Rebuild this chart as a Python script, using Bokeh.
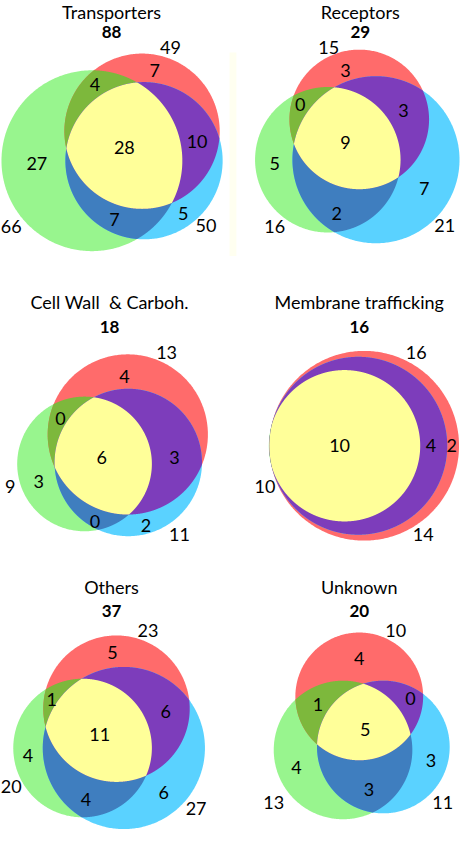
import numpy as np
from bokeh.plotting import figure
from bokeh.models import Range1d, ColumnDataSource
from bokeh.core.properties import value
from bokeh.embed import file_html
from bokeh.resources import INLINE

# ---------------- data ----------------
titles = ["Transporters", "Receptors", "Cell Wall\u00a0 & Carboh.",
          "Membrane trafficking", "Others", "Unknown"]
totals = [88, 29, 18, 16, 37, 20]
green_totals = [66, 16, 9, 10, 20, 13]
red_totals = [49, 15, 13, 16, 23, 10]
blue_totals = [50, 21, 11, 14, 27, 11]
green_only = [27, 5, 3, None, 4, 4]
red_only = [7, 3, 4, 2, 5, 4]
blue_only = [5, 7, 2, None, 6, 3]
green_red = [4, 0, 0, None, 1, 1]
green_blue = [7, 2, 0, None, 4, 3]
red_blue = [10, 3, 3, 4, 6, 0]
all_three = [28, 9, 6, 10, 11, 5]

# ---------------- layout (reference pixel space) ----------------
circles = [
    {"G": (93, 163, 92), "R": (144, 133, 79), "B": (146, 163, 80)},
    {"G": (333, 162, 74), "R": (365, 121, 71), "B": (382, 162, 85)},
    {"G": (85.5, 471.5, 68.5), "R": (129.5, 441.5, 81.5), "B": (130, 470, 75)},
    {"G": (350, 453, 77), "R": (370, 453, 96.5), "B": (364, 453, 90.5)},
    {"G": (83.5, 760.5, 70.5), "R": (118, 720.5, 74.5), "B": (125.5, 760.5, 82.5)},
    {"G": (348.5, 762.5, 70.5), "R": (365, 708, 65), "B": (389.5, 759.5, 67.5)},
]
label_pos = [
    {"title": (113, 12), "total": (113, 32), "Gt": (11, 230), "Rt": (173, 48), "Bt": (209, 229),
     "G": (37, 166), "R": (157, 71), "B": (186, 217), "GR": (96, 85), "GB": (116, 223),
     "RB": (200, 143), "GRB": (126, 150)},
    {"title": (366, 12), "total": (366, 32), "Gt": (279, 230), "Rt": (334, 48), "Bt": (452, 229),
     "G": (279, 166), "R": (351, 71), "B": (431, 191), "GR": (305, 106), "GB": (342, 217),
     "RB": (410, 112), "GRB": (351, 144)},
    {"title": (111, 307), "total": (111, 332), "Gt": (10, 494), "Rt": (169, 358), "Bt": (182, 543),
     "G": (39, 489), "R": (126, 383), "B": (148, 534), "GR": (61, 425), "GB": (96, 530),
     "RB": (177, 465), "GRB": (103, 465)},
    {"title": (365, 307), "total": (365, 332), "Gt": (269, 494), "Rt": (423, 358), "Bt": (430, 543),
     "G": None, "R": (459, 453), "B": None, "GR": None, "GB": None,
     "RB": (438, 453), "GRB": (345, 453)},
    {"title": (113, 597), "total": (113, 621), "Gt": (11, 800), "Rt": (150, 641), "Bt": (199, 822),
     "G": (28, 768), "R": (114, 663), "B": (166, 806), "GR": (52, 711), "GB": (87, 813),
     "RB": (168, 723), "GRB": (101, 747)},
    {"title": (365, 597), "total": (365, 621), "Gt": (278, 816), "Rt": (402, 641), "Bt": (450, 816),
     "G": (301, 780), "R": (365, 669), "B": (438, 773), "GR": (323, 716), "GB": (375, 803),
     "RB": (417, 710), "GRB": (371, 742)},
]
colors = {"G": "#98F58E", "R": "#FF6B6B", "B": "#5AD2FF",
          "GR": "#7DB83C", "GB": "#3F7EBF", "RB": "#7D3DBB", "GRB": "#FFFF99"}

FONT = "Lato"


def circle_poly(c, n=400):
    cx, cy, r = c
    t = np.linspace(0, 2 * np.pi, n, endpoint=False)
    return cx + r * np.cos(t), cy + r * np.sin(t)


def intersection_poly(cs, n=3000):
    px, py = [], []
    for i, c in enumerate(cs):
        x, y = circle_poly(c, n)
        keep = np.ones_like(x, dtype=bool)
        for j, o in enumerate(cs):
            if i == j:
                continue
            keep &= (x - o[0]) ** 2 + (y - o[1]) ** 2 <= (o[2] + 1e-6) ** 2
        px.append(x[keep])
        py.append(y[keep])
    px = np.concatenate(px)
    py = np.concatenate(py)
    if len(px) < 3:
        return None
    mx, my = px.mean(), py.mean()
    order = np.argsort(np.arctan2(py - my, px - mx))
    return px[order], py[order]


xs, ys, fills = [], [], []
for circ in circles:
    for k in ["G", "R", "B"]:
        x, y = circle_poly(circ[k])
        xs.append(list(x)); ys.append(list(y)); fills.append(colors[k])
    for k in ["GR", "GB", "RB", "GRB"]:
        poly = intersection_poly([circ[c] for c in k])
        if poly is None:
            continue
        xs.append(list(poly[0])); ys.append(list(poly[1])); fills.append(colors[k])

W, H = 460, 835
s = W / 468.0
p = figure(width=W, height=H, output_backend="svg", toolbar_location=None,
           x_range=Range1d(0, 468), y_range=Range1d(H / s, 0),
           min_border=0, outline_line_color=None, background_fill_color="white")
p.axis.visible = False
p.grid.visible = False

# faint vertical strip seen in the reference
p.quad(left=[233], right=[240], top=[53], bottom=[260], fill_color="#FFFFF0", line_color=None)

p.patches(xs="xs", ys="ys", fill_color="fill", line_color=None,
          source=ColumnDataSource(dict(xs=xs, ys=ys, fill=fills)))

num_x, num_y, num_t = [], [], []
tit_x, tit_y, tit_t = [], [], []
tot_x, tot_y, tot_t = [], [], []
region_vals = {"G": green_only, "R": red_only, "B": blue_only, "GR": green_red,
               "GB": green_blue, "RB": red_blue, "GRB": all_three}
for i, lp in enumerate(label_pos):
    tit_x.append(lp["title"][0]); tit_y.append(lp["title"][1]); tit_t.append(titles[i])
    tot_x.append(lp["total"][0]); tot_y.append(lp["total"][1]); tot_t.append(str(totals[i]))
    for key, arr in [("Gt", green_totals), ("Rt", red_totals), ("Bt", blue_totals)]:
        num_x.append(lp[key][0]); num_y.append(lp[key][1]); num_t.append(str(arr[i]))
    for key, arr in region_vals.items():
        if arr[i] is None or lp[key] is None:
            continue
        num_x.append(lp[key][0]); num_y.append(lp[key][1]); num_t.append(str(arr[i]))

p.text(x="x", y="y", text="t", source=ColumnDataSource(dict(x=num_x, y=num_y, t=num_t)),
       text_font=value(FONT), text_font_size="18px", text_align="center",
       text_baseline="middle", text_color="black")
p.text(x="x", y="y", text="t", source=ColumnDataSource(dict(x=tit_x, y=tit_y, t=tit_t)),
       text_font=value(FONT), text_font_size="18px", text_align="center",
       text_baseline="middle", text_color="black")
p.text(x="x", y="y", text="t", source=ColumnDataSource(dict(x=tot_x, y=tot_y, t=tot_t)),
       text_font=value(FONT), text_font_size="17px", text_font_style="bold",
       text_align="center", text_baseline="middle", text_color="black")

open("out.html", "w").write(file_html(p, INLINE))
